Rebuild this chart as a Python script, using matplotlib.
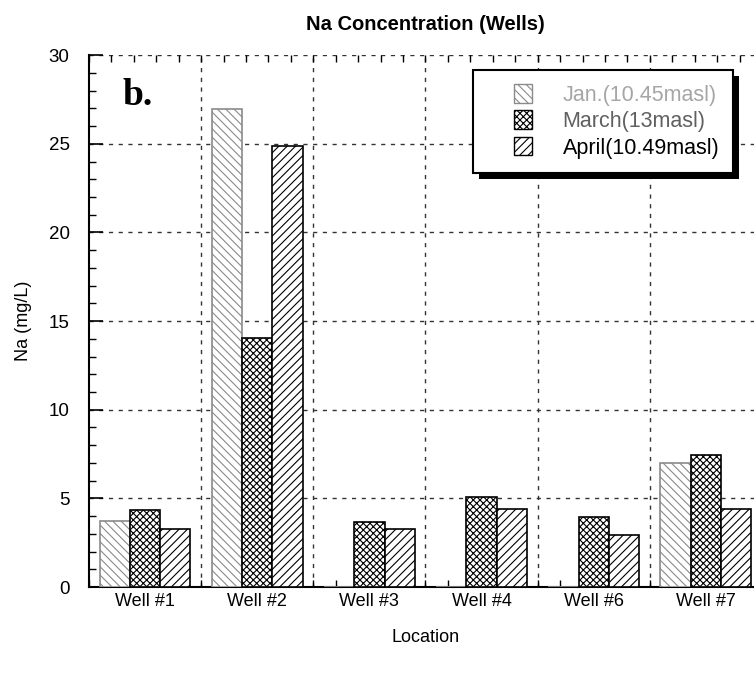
import numpy as np
import matplotlib
matplotlib.use("Agg")
import matplotlib.pyplot as plt
from matplotlib.patches import Rectangle
from matplotlib.legend_handler import HandlerPatch

plt.rcParams['font.family'] = ['Liberation Sans', 'DejaVu Sans']
plt.rcParams['hatch.linewidth'] = 0.8

# sodium in well water, mg/L (0 = not sampled)
wells = ["Well #1", "Well #2", "Well #3", "Well #4", "Well #6", "Well #7"]
jan = [3.75, 26.95, 0, 0, 0, 7.0]
march = [4.35, 14.07, 3.68, 5.08, 3.93, 7.47]
april = [3.28, 24.85, 3.25, 4.42, 2.95, 4.42]

series_names = ["Jan.(10.45masl)", "March(13masl)", "April(10.49masl)"]
styles = [
    dict(edgecolor="#8a8a8a", hatch="\\\\\\\\"),
    dict(edgecolor="black", hatch="xxxxx"),
    dict(edgecolor="black", hatch="////"),
]
text_colors = ["#a6a6a6", "#606060", "black"]

fig = plt.figure(figsize=(7.54, 6.81), dpi=100)
# the plot runs a little past the right edge of the page
ax = fig.add_axes([0.118, 0.138, 0.8926, 0.781])

x = np.arange(len(wells))
w = 0.27

for i, vals in enumerate([jan, march, april]):
    ax.bar(x + (i - 1) * w, vals, w, facecolor="white", linewidth=1.2,
           zorder=3, **styles[i])

ax.set_xlim(-0.5, len(wells) - 0.5)
ax.set_ylim(0, 30)

# grid: dashed lines between wells and at every 5 mg/L
for b in np.arange(0.5, len(wells) - 0.5, 1.0):
    ax.axvline(b, color="#333333", lw=1.0, ls=(0, (3, 4)), zorder=1)
for yv in range(5, 31, 5):
    ax.axhline(yv, color="#333333", lw=1.0, ls=(0, (3, 4)), zorder=1)

ax.set_xticks(x)
ax.set_xticklabels(wells, fontsize=13)
ax.set_xticks(np.arange(-0.5, len(wells) - 0.4, 0.2), minor=True)
ax.tick_params(axis="x", which="major", length=0, pad=4)
ax.tick_params(axis="x", which="minor", direction="in", length=5, top=True,
               bottom=True, width=1.0)

ax.set_yticks(range(0, 31, 5))
ax.set_yticks(range(0, 31), minor=True)
ax.tick_params(axis="y", which="major", direction="in", length=10, width=1.2,
               labelsize=13.5, pad=14)
ax.tick_params(axis="y", which="minor", direction="in", length=5, width=1.0)

ax.spines["top"].set_visible(False)
ax.spines["right"].set_visible(False)
ax.spines["left"].set_linewidth(1.5)
ax.spines["bottom"].set_linewidth(1.5)

ax.set_title("Na Concentration (Wells)", fontsize=14.5, fontweight="bold", pad=18)
ax.set_ylabel("Na (mg/L)", fontsize=13, labelpad=12)
ax.set_xlabel("Location", fontsize=13, labelpad=14)

ax.text(0.05, 0.906, "b.", transform=ax.transAxes, fontsize=27,
        fontweight="bold", family="Liberation Serif", va="baseline")


# small square swatch pushed to the right end of the handle slot
def square_swatch(legend, orig_handle, xdescent, ydescent, width, height, fontsize):
    return Rectangle((width - xdescent - height, -ydescent), height, height)


proxies = [Rectangle((0, 0), 1, 1, facecolor="white", linewidth=1.0, **s)
           for s in styles]
leg = ax.legend(proxies, series_names, loc="upper left",
                bbox_to_anchor=(0.571, 0.972), fontsize=15.5,
                frameon=True, fancybox=False, edgecolor="black", framealpha=1,
                borderpad=0.65, handlelength=2.1, handleheight=0.95,
                handletextpad=1.4, labelspacing=0.22, borderaxespad=0,
                handler_map={Rectangle: HandlerPatch(patch_func=square_swatch)})
leg.get_frame().set_linewidth(1.5)
leg.get_frame().set_facecolor("white")
leg.set_zorder(5)
for t, c in zip(leg.get_texts(), text_colors):
    t.set_color(c)

# solid drop shadow behind the legend box
fig.canvas.draw()
bb = leg.get_window_extent()
shadow = Rectangle((bb.x0 + 6, bb.y0 - 6), bb.width, bb.height,
                   transform=None, facecolor="black", edgecolor="none",
                   zorder=4.5)
ax.add_artist(shadow)

fig.savefig("out.png", dpi=100)
